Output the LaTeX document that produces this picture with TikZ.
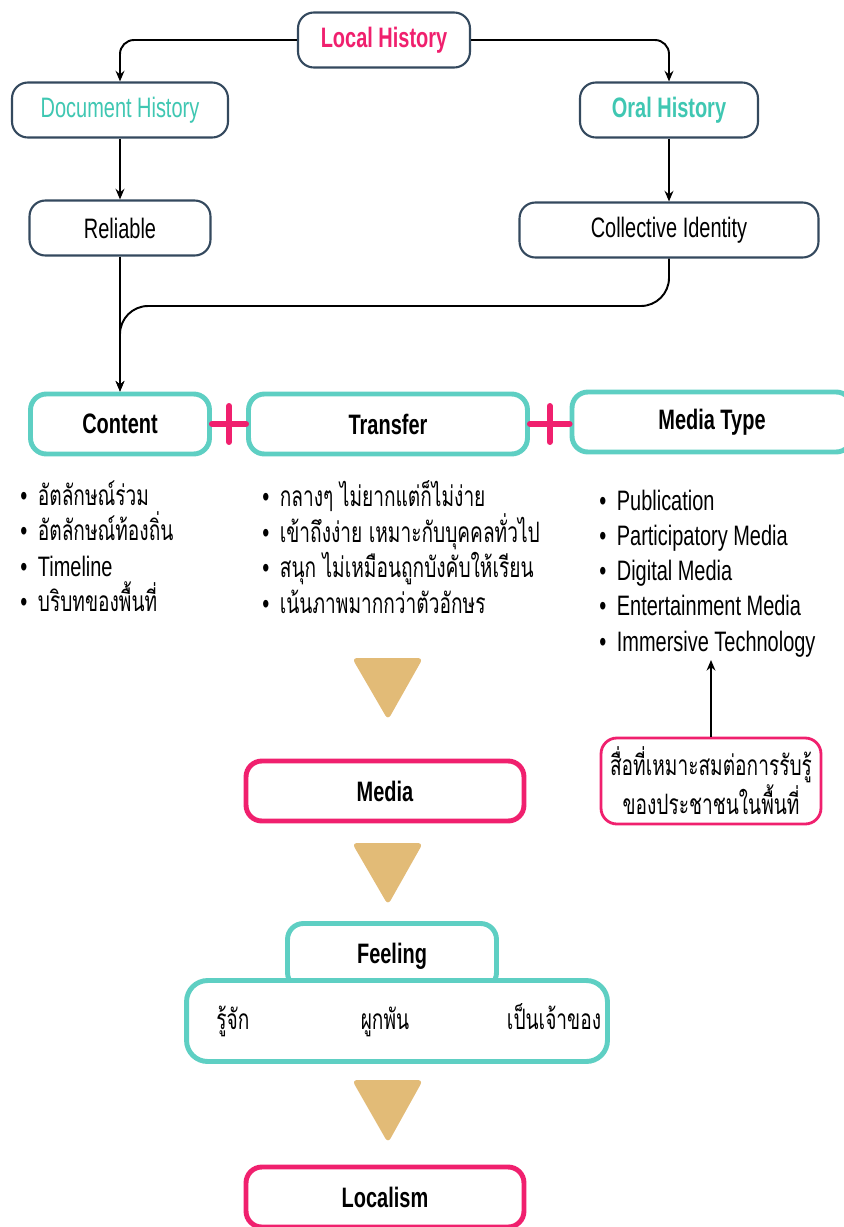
\documentclass[tikz,border=0pt]{standalone}
\usepackage{fontspec}
\setmainfont{Liberation Sans}[FakeStretch=0.71]
\newfontfamily\thaifont[Script=Thai,FakeStretch=0.68]{Loma}
\usetikzlibrary{arrows.meta, positioning, calc}
\definecolor{lhpink}{HTML}{F0206E}
\definecolor{lhteal}{HTML}{5ECFC3}
\definecolor{lhtealtext}{HTML}{3FC7B2}
\definecolor{lhslate}{HTML}{34495E}
\definecolor{lhtan}{HTML}{E2BB77}

\tikzset{
  base/.style={rounded corners=9pt, fill=white, align=center,
               font=\fontsize{16}{19}\selectfont},
  slatebox/.style={base, draw=lhslate, line width=1.2pt, minimum height=1.1cm},
  tealbox/.style={base, draw=lhteal, line width=2.8pt, minimum height=1.2cm,
                  font=\fontsize{16}{19}\selectfont\bfseries},
  pinkbox/.style={base, draw=lhpink, line width=2.8pt, minimum height=1.2cm,
                  font=\fontsize{16}{19}\selectfont\bfseries},
  flow/.style={-{Stealth[length=6pt,width=5pt]}, line width=1.1pt},
  plus/.style={draw=lhpink, line width=3.4pt, line cap=round},
  item/.style={anchor=west, inner sep=0pt, text height=11pt, text depth=4pt,
               yshift=-2.2pt, font=\fontsize{16}{19}\selectfont},
  feelword/.style={anchor=center, inner sep=0pt, text height=11pt, text depth=4pt,
                   font=\fontsize{16}{19}\selectfont\thaifont},
  arrowhead/.style={fill=lhtan, rounded corners=3pt}
}

\begin{document}
\begin{tikzpicture}[x=0.02cm, y=-0.02cm]
  \useasboundingbox (0,0) rectangle (843,1227);

  % History sources
  \node[slatebox, minimum width=3.44cm, text=lhpink, font=\fontsize{16}{19}\selectfont\bfseries] (local) at (384,40) {Local History};
  \node[slatebox, minimum width=4.32cm, text=lhtealtext] (dochist) at (120,110) {Document History};
  \node[slatebox, minimum width=3.56cm, text=lhtealtext, font=\fontsize{16}{19}\selectfont\bfseries] (oralhist) at (669,110) {Oral History};
  \node[slatebox, minimum width=3.62cm] (reliable) at (120,228) {Reliable};
  \node[slatebox, minimum width=5.98cm] (collective) at (669,230) {Collective Identity};
  \coordinate (merge) at (120,306);

  \draw[flow, rounded corners=8pt] (local.west) -| (dochist.north);
  \draw[flow, rounded corners=8pt] (local.east) -| (oralhist.north);
  \draw[flow] (dochist) -- (reliable);
  \draw[flow] (oralhist) -- (collective);

  % Content + Transfer + Media Type
  \node[tealbox, minimum width=3.58cm] (content) at (120,424) {Content};
  \node[tealbox, minimum width=5.58cm] (transfer) at (388,424) {Transfer};
  \node[tealbox, minimum width=5.6cm] (mediatype) at (712,422) {Media Type};

  \draw[flow] (reliable.south) -- (content.north);
  \draw[flow, rounded corners=16pt] (collective.south) |- (merge) -- (content.north);

  \draw[plus] (content.east) -- (transfer.west);
  \draw[plus] ($(content.east)!0.5!(transfer.west)$) ++(0,-18) -- ++(0,36);
  \draw[plus] (transfer.east) -- (mediatype.west |- transfer.east);
  \draw[plus] ($(transfer.east)!0.5!(mediatype.west |- transfer.east)$) ++(0,-18) -- ++(0,36);

  % lists
  \node[item] (c1) at (20,495) {\textbullet\hspace{6pt}\thaifont อัตลักษณ์ร่วม};
  \node[item] (c2) at (20,530) {\textbullet\hspace{6pt}\thaifont อัตลักษณ์ท้องถิ่น};
  \node[item] (c3) at (20,566) {\textbullet\hspace{6pt}Timeline};
  \node[item] (c4) at (20,601) {\textbullet\hspace{6pt}\thaifont บริบทของพื้นที่};

  \node[item] (t1) at (262,496) {\textbullet\hspace{6pt}\thaifont กลางๆ ไม่ยากแต่ก็ไม่ง่าย};
  \node[item] (t2) at (262,532) {\textbullet\hspace{6pt}\thaifont เข้าถึงง่าย เหมาะกับบุคคลทั่วไป};
  \node[item] (t3) at (262,567) {\textbullet\hspace{6pt}\thaifont สนุก ไม่เหมือนถูกบังคับให้เรียน};
  \node[item] (t4) at (262,603) {\textbullet\hspace{6pt}\thaifont เน้นภาพมากกว่าตัวอักษร};

  \foreach \txt [count=\i] in {Publication, Participatory Media, Digital Media,
                               Entertainment Media, Immersive Technology}
    \node[item] (m\i) at (599,{500+35.25*(\i-1)}) {\textbullet\hspace{6pt}\txt};

  % audience note
  \node[base, draw=lhpink, line width=1.6pt, minimum width=4.4cm, minimum height=1.72cm,
        font=\fontsize{16}{20}\selectfont\thaifont] (note) at (711,781)
        {สื่อที่เหมาะสมต่อการรับรู้\\ของประชาชนในพื้นที่};
  \coordinate (imtip) at (711,660);
  \draw[flow] (note.north) -- (imtip);

  % flow down
  \fill[arrowhead] (352,658) -- (423,658) -- (388,720) -- cycle;
  \node[pinkbox, minimum width=5.56cm] (media) at (385,791) {Media};
  \fill[arrowhead] (352,843) -- (423,843) -- (388,905) -- cycle;

  \node[tealbox, minimum width=4.18cm, minimum height=1.3cm] (feeling) at (392,956) {Feeling};
  \node[tealbox, minimum width=8.42cm, minimum height=1.62cm, rounded corners=12pt] (feelrow) at (397,1021) {};
  \node[feelword] (know) at (233,1023) {รู้จัก};
  \node[feelword] (bond) at (385,1023) {ผูกพัน};
  \node[feelword] (own) at (554,1023) {เป็นเจ้าของ};

  \fill[arrowhead] (352,1080) -- (423,1080) -- (388,1143) -- cycle;
  \node[pinkbox, minimum width=5.56cm] (localism) at (385,1197) {Localism};
\end{tikzpicture}
\end{document}
